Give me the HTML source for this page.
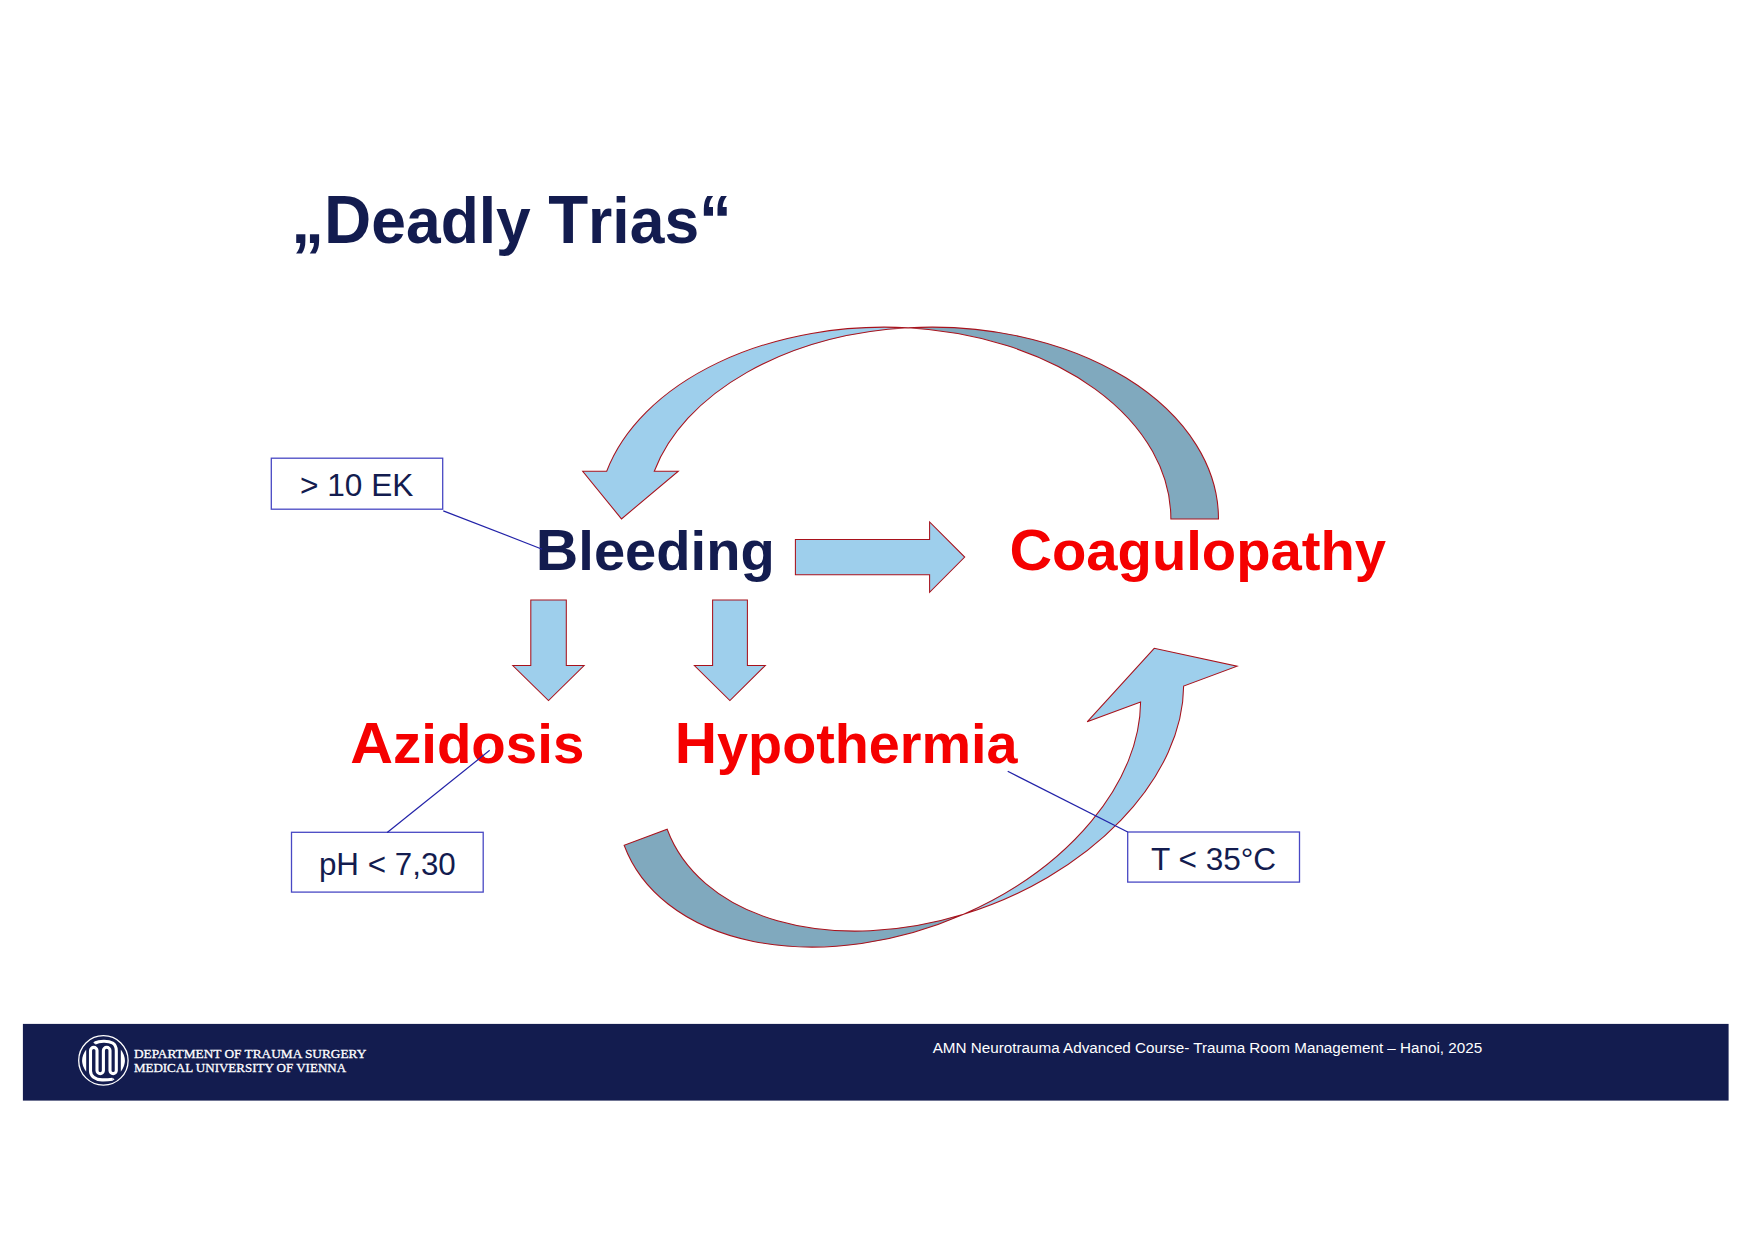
<!DOCTYPE html>
<html><head><meta charset="utf-8"><title>Deadly Trias</title>
<style>
html,body{margin:0;padding:0;background:#fff;}
body{width:1754px;height:1241px;overflow:hidden;position:relative;font-family:"Liberation Sans",sans-serif;}
svg{position:absolute;left:0;top:0;display:block;}
</style></head><body>
<svg width="1754" height="1241" viewBox="0 0 1754 1241"><g transform="translate(1218.48,518.91) rotate(180)"><path d="M597.00,0 L635.80,47.67 L611.80,47.67 A286.60,191.76 0 0 1 310.40,191.10 A286.60,191.76 0 0 0 564.20,47.67 L540.20,47.67 Z" fill="#9ecfec"/><path d="M310.40,191.10 A286.60,191.76 0 0 1 0,0 L47.60,0 A286.60,191.76 0 0 0 310.40,191.10 Z" fill="#80a9be"/><path d="M310.40,191.10 A286.60,191.76 0 0 0 564.20,47.67 L540.20,47.67 L597.00,0 L635.80,47.67 L611.80,47.67 A286.60,191.76 0 0 1 310.40,191.10 A286.60,191.76 0 0 1 0,0 L47.60,0 A286.60,191.76 0 0 0 310.40,191.10" fill="none" stroke="#a8121c" stroke-width="1.05" stroke-linejoin="miter"/></g><g transform="translate(624.13,845.23) rotate(-20.377)"><path d="M565.47,0 L636.95,45.58 L579.94,45.58 A271.25,183.58 0 0 1 294.22,182.92 A271.25,183.58 0 0 0 534.01,45.58 L477.01,45.58 Z" fill="#9ecfec"/><path d="M294.22,182.92 A271.25,183.58 0 0 1 0,0 L45.93,0 A271.25,183.58 0 0 0 294.22,182.92 Z" fill="#80a9be"/><path d="M294.22,182.92 A271.25,183.58 0 0 0 534.01,45.58 L477.01,45.58 L565.47,0 L636.95,45.58 L579.94,45.58 A271.25,183.58 0 0 1 294.22,182.92 A271.25,183.58 0 0 1 0,0 L45.93,0 A271.25,183.58 0 0 0 294.22,182.92" fill="none" stroke="#a8121c" stroke-width="1.05" stroke-linejoin="miter"/></g><path d="M795.4,539.4 L929.6,539.4 L929.6,522 L964.7,557.1 L929.6,592.3 L929.6,574.8 L795.4,574.8 Z" fill="#9ecfec" stroke="#a8121c" stroke-width="1.05"/><path d="M530.8,599.9 L566.3,599.9 L566.3,665.5 L584.1,665.5 L548.5,700.5 L512.8,665.5 L530.8,665.5 Z" fill="#9ecfec" stroke="#a8121c" stroke-width="1.05"/><path d="M712.6,599.9 L747.4,599.9 L747.4,665.5 L765.3,665.5 L729.9,700.5 L694.4,665.5 L712.6,665.5 Z" fill="#9ecfec" stroke="#a8121c" stroke-width="1.05"/><text x="291.3" y="243.2" font-family="Liberation Sans, sans-serif" font-size="65.3" font-weight="bold" fill="#131c4f" textLength="440.52" lengthAdjust="spacingAndGlyphs"><tspan font-size="68.5">&#8222;D</tspan>eadly <tspan font-size="68.5">T</tspan>rias<tspan font-size="68.5">&#8220;</tspan></text><text x="535.8" y="570" font-family="Liberation Sans, sans-serif" font-size="55.3" font-weight="bold" fill="#131c4f" textLength="238.97" lengthAdjust="spacingAndGlyphs"><tspan font-size="58">B</tspan>leeding</text><text x="1009.4" y="570.4" font-family="Liberation Sans, sans-serif" font-size="55.3" font-weight="bold" fill="#f50000" textLength="376.65" lengthAdjust="spacingAndGlyphs"><tspan font-size="58">C</tspan>oagulopathy</text><text x="350.2" y="762.9" font-family="Liberation Sans, sans-serif" font-size="55.0" font-weight="bold" fill="#f50000" textLength="234.07" lengthAdjust="spacingAndGlyphs"><tspan font-size="57.8">A</tspan>zidosis</text><text x="674.8" y="762.6" font-family="Liberation Sans, sans-serif" font-size="54.8" font-weight="bold" fill="#f50000" textLength="342.8" lengthAdjust="spacingAndGlyphs"><tspan font-size="57.6">H</tspan>ypothermia</text><text x="300.0" y="496.2" font-family="Liberation Sans, sans-serif" font-size="31.5" font-weight="normal" fill="#131c4f" textLength="113.38" lengthAdjust="spacingAndGlyphs">&gt; 10 EK</text><text x="318.9" y="874.9" font-family="Liberation Sans, sans-serif" font-size="31.5" font-weight="normal" fill="#131c4f" textLength="136.88" lengthAdjust="spacingAndGlyphs">pH &lt; 7,30</text><text x="1151.0" y="869.6" font-family="Liberation Sans, sans-serif" font-size="31.5" font-weight="normal" fill="#131c4f" textLength="125.17" lengthAdjust="spacingAndGlyphs">T &lt; 35&#176;C</text><rect x="271.3" y="458.2" width="171.4" height="51" fill="none" stroke="#4848c4" stroke-width="1.3"/><rect x="291.5" y="832.3" width="191.7" height="59.8" fill="none" stroke="#4848c4" stroke-width="1.3"/><rect x="1127.7" y="832" width="171.8" height="50.1" fill="none" stroke="#4848c4" stroke-width="1.3"/><line x1="443.3" y1="510.9" x2="542.2" y2="549.2" stroke="#2222a8" stroke-width="1.2"/><line x1="387.2" y1="832.5" x2="489.7" y2="750.3" stroke="#2222a8" stroke-width="1.2"/><line x1="1007.7" y1="771.3" x2="1127.7" y2="832" stroke="#2222a8" stroke-width="1.2"/><rect x="22.9" y="1023.9" width="1705.7" height="76.7" fill="#131c4f"/><circle cx="103.4" cy="1060.4" r="24.7" fill="none" stroke="#fff" stroke-width="1.3"/><path d="M86.2,1049.6 Q78,1060.7 86.2,1071.8 Z" fill="#fff"/><path d="M120.8,1049.6 Q129,1060.7 120.8,1071.8 Z" fill="#fff"/><path d="M95.0,1043.0 C99,1041.0 108,1040.4 112.6,1043.0 C115.4,1044.8 116.3,1047 116.3,1050.6 L116.3,1070.5 A3.1499999999999986,3.1499999999999986 0 0 1 110.0,1070.5 L110.0,1050.6 A3.299999999999997,3.299999999999997 0 0 0 103.4,1050.6 L103.4,1070.5 A3.200000000000003,3.200000000000003 0 0 1 97.0,1070.5 L97.0,1050.6 A3.25,3.25 0 0 0 90.5,1050.6 L90.5,1071 C90.5,1076 95,1079.6 102,1079.9 C106,1080 110,1079.6 112.5,1079.2" fill="none" stroke="#fff" stroke-width="3.1"/><path d="M95.4,1041.4 L93.2,1042.6 L95.6,1044.6 Z" fill="#fff"/><path d="M112.3,1077.7 L114.6,1079.3 L112.5,1080.8 Z" fill="#fff"/><text x="133.9" y="1058.0" font-family="Liberation Serif, serif" font-size="13.5" font-weight="normal" fill="#fff" textLength="232.42" lengthAdjust="spacingAndGlyphs" stroke="#fff" stroke-width="0.3">DEPARTMENT OF TRAUMA SURGERY</text><text x="133.9" y="1072.0" font-family="Liberation Serif, serif" font-size="13.5" font-weight="normal" fill="#fff" textLength="212.16" lengthAdjust="spacingAndGlyphs" stroke="#fff" stroke-width="0.3">MEDICAL UNIVERSITY OF VIENNA</text><text x="932.7" y="1052.6" font-family="Liberation Sans, sans-serif" font-size="15.5" font-weight="normal" fill="#fff" textLength="549.55" lengthAdjust="spacingAndGlyphs">AMN Neurotrauma Advanced Course- Trauma Room Management &#8211; Hanoi, 2025</text></svg>
</body></html>
